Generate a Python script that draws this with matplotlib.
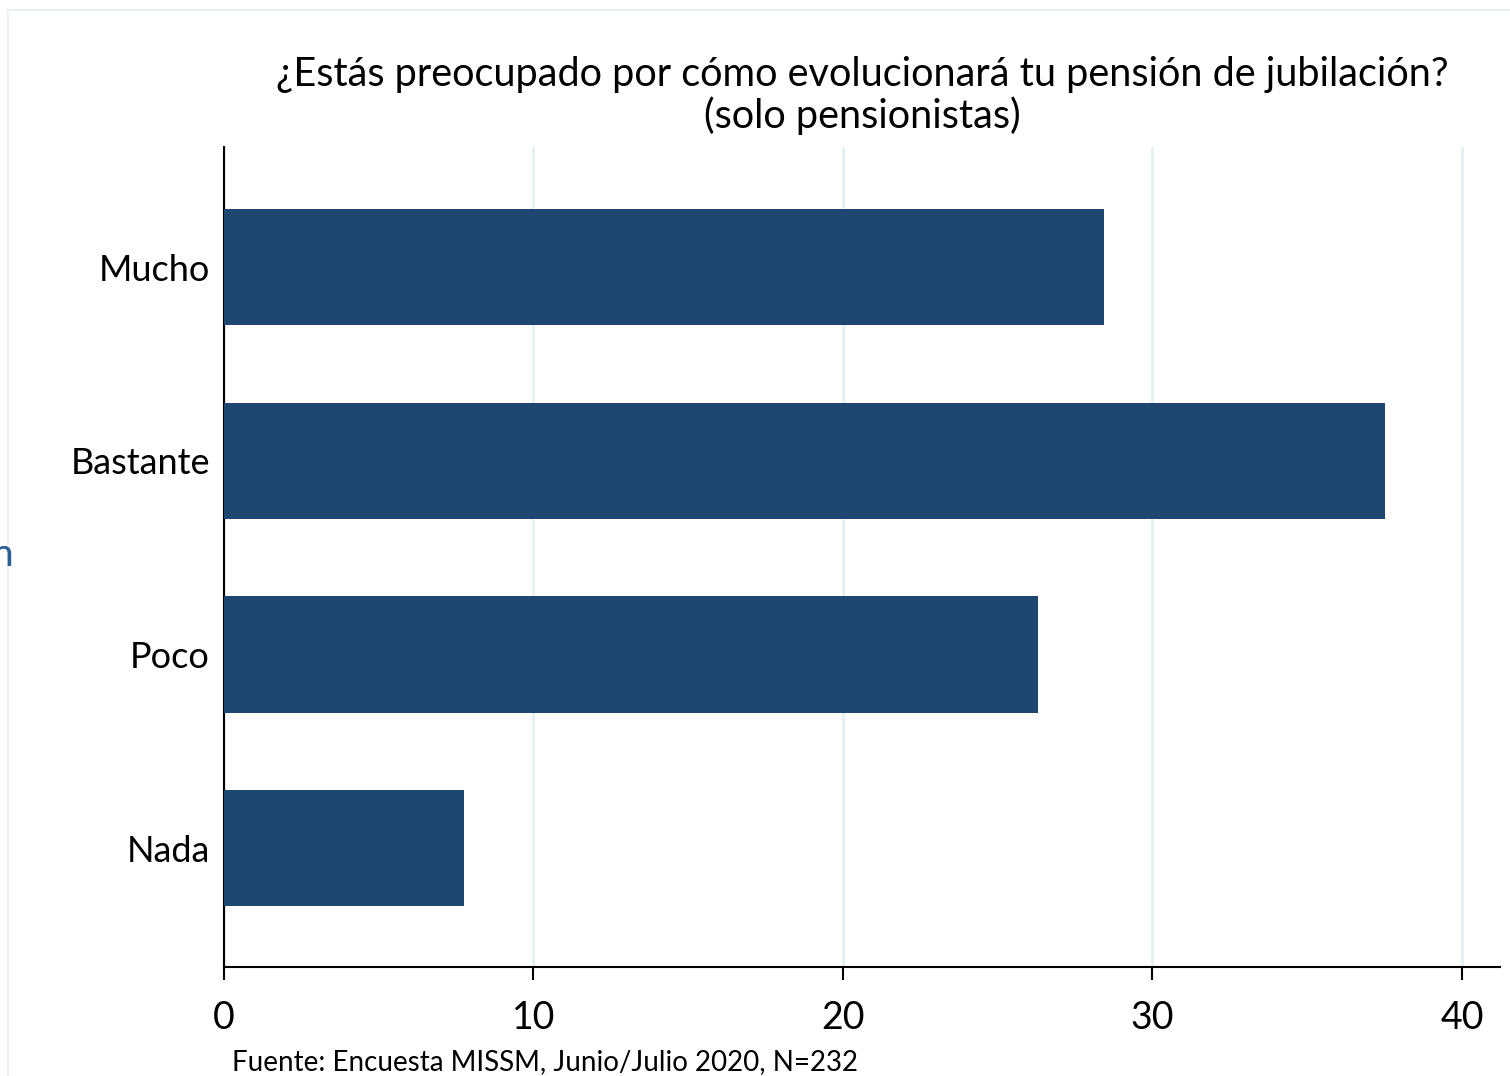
import matplotlib
matplotlib.use("Agg")
import matplotlib.pyplot as plt
from matplotlib.patches import Rectangle

plt.rcParams['font.family'] = ['Lato', 'DejaVu Sans']

categorias = ["Mucho", "Bastante", "Poco", "Nada"]
porcentajes = [28.45, 37.5, 26.3, 7.76]
posiciones = [3, 2, 1, 0]

fig = plt.figure(figsize=(15.1, 10.76), dpi=100)
ax = fig.add_axes([0.1483, 0.1013, 0.8451, 0.7621])

ax.barh(posiciones, porcentajes, height=0.6, color="#1d4770", zorder=3)

ax.set_xlim(0, 41.23)
ax.set_ylim(-0.614, 3.62)
ax.set_xticks([0, 10, 20, 30, 40])
ax.set_yticks(posiciones)
ax.set_yticklabels(categorias)
ax.tick_params(axis="x", labelsize=27, length=9, width=1.5, pad=15)
ax.tick_params(axis="y", labelsize=26, length=0, pad=10)
ax.grid(axis="x", color="#e6f0f0", linewidth=2, zorder=0)

for lado in ["top", "right"]:
    ax.spines[lado].set_visible(False)
for lado in ["left", "bottom"]:
    ax.spines[lado].set_linewidth(1.5)

ax.set_title("¿Estás preocupado por cómo evolucionará tu pensión de jubilación?\n(solo pensionistas)",
             fontsize=28.5, pad=14, linespacing=1.08)

fig.text(232 / 1510, 1 - 1062 / 1076, "Fuente: Encuesta MISSM, Junio/Julio 2020, N=232",
         fontsize=20, va="center", ha="left")

# marco claro de la diapositiva y fragmento de texto recortado a la izquierda
fig.patches.append(Rectangle((8 / 1510, -0.01), 1.0, 1 - 10 / 1076 + 0.01, transform=fig.transFigure,
                             fill=False, edgecolor="#eef2f2", linewidth=1.5))
fig.text(-0.006, 1 - 555 / 1076, "n", fontsize=28, color="#2e5f93", va="center", ha="left")

fig.savefig("out.png", dpi=100)
